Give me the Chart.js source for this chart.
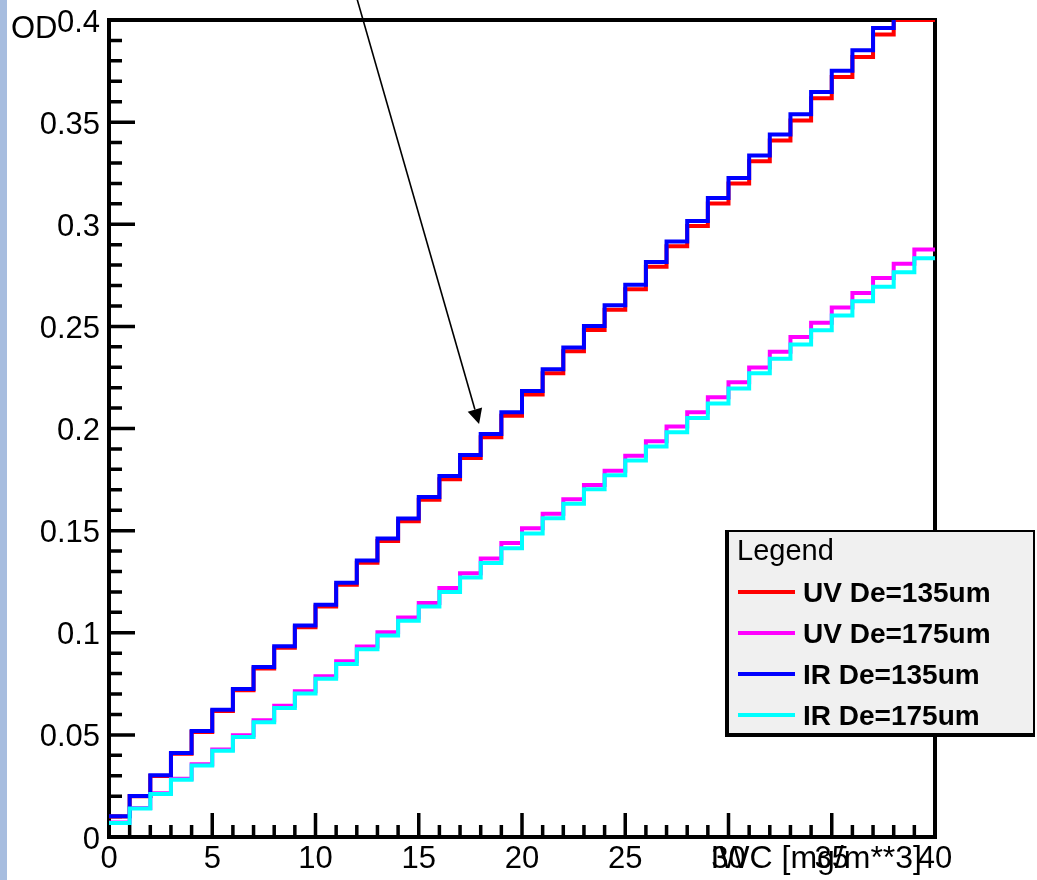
<!DOCTYPE html>
<html>
<head>
<meta charset="utf-8">
<title>OD vs IWC</title>
<script src="https://cdn.jsdelivr.net/npm/chart.js@4.4.1/dist/chart.umd.min.js"></script>
<style>
  html, body { margin: 0; padding: 0; background: #fff; }
  body { width: 1037px; height: 880px; position: relative; overflow: hidden; }
  .side-strip { position: absolute; left: 0; top: 0; width: 7px; height: 880px; background: #a7bddf; }
  #odChart { position: absolute; left: 0; top: 0; }
</style>
</head>
<body>
<div class="side-strip"></div>
<canvas id="odChart" width="1037" height="880"></canvas>
<script>
// histogram bin edges, IWC [mg/m**3]
const binEdges = [0, 1, 2, 3, 4, 5, 6, 7, 8, 9, 10, 11, 12, 13, 14, 15, 16, 17, 18, 19, 20,
  21, 22, 23, 24, 25, 26, 27, 28, 29, 30, 31, 32, 33, 34, 35, 36, 37, 38, 39, 40];

// OD per bin
const uv135 = [0.0100, 0.0199, 0.0299, 0.0407, 0.0514, 0.0617, 0.0719, 0.0825, 0.0926, 0.1027,
  0.1128, 0.1235, 0.1343, 0.1449, 0.1546, 0.1651, 0.1752, 0.1855, 0.1957, 0.2062,
  0.2166, 0.2271, 0.2378, 0.2482, 0.2582, 0.2682, 0.2792, 0.2892, 0.2991, 0.3102,
  0.3199, 0.3309, 0.3410, 0.3508, 0.3617, 0.3721, 0.3819, 0.3929, 0.4000, 0.4000];
const uv175 = [0.0071, 0.0142, 0.0214, 0.0285, 0.0356, 0.0429, 0.0498, 0.0571, 0.0642, 0.0713,
  0.0787, 0.0860, 0.0933, 0.1002, 0.1075, 0.1146, 0.1219, 0.1291, 0.1364, 0.1440,
  0.1512, 0.1583, 0.1653, 0.1723, 0.1793, 0.1866, 0.1938, 0.2010, 0.2080, 0.2153,
  0.2226, 0.2299, 0.2376, 0.2448, 0.2518, 0.2593, 0.2664, 0.2737, 0.2806, 0.2876];
const ir135 = [0.0101, 0.0201, 0.0302, 0.0411, 0.0519, 0.0623, 0.0725, 0.0832, 0.0934, 0.1036,
  0.1137, 0.1245, 0.1354, 0.1461, 0.1559, 0.1665, 0.1767, 0.1870, 0.1973, 0.2079,
  0.2184, 0.2290, 0.2397, 0.2502, 0.2603, 0.2704, 0.2815, 0.2916, 0.3016, 0.3128,
  0.3226, 0.3337, 0.3439, 0.3538, 0.3647, 0.3752, 0.3852, 0.3961, 0.4065, 0.4170];
const ir175 = [0.0069, 0.0140, 0.0211, 0.0280, 0.0350, 0.0422, 0.0490, 0.0562, 0.0632, 0.0702,
  0.0775, 0.0847, 0.0919, 0.0987, 0.1059, 0.1129, 0.1200, 0.1271, 0.1342, 0.1414,
  0.1486, 0.1560, 0.1631, 0.1702, 0.1771, 0.1843, 0.1912, 0.1982, 0.2052, 0.2122,
  0.2196, 0.2271, 0.2341, 0.2411, 0.2481, 0.2553, 0.2623, 0.2694, 0.2765, 0.2833];

const xTicks = [0, 5, 10, 15, 20, 25, 30, 35, 40];
const yTicks = [0, 0.05, 0.1, 0.15, 0.2, 0.25, 0.3, 0.35, 0.4];
const xMinorStep = 1;
const yMinorStep = 0.01;

// arrow annotation, in data coordinates
const arrowFrom = [12.02, 0.41];
const arrowTo = [17.92, 0.2022];

const FONT = "'Liberation Sans', Arial, Helvetica, sans-serif";
Chart.defaults.font.family = FONT;
Chart.defaults.color = "#000";

// one point per left bin edge plus the closing edge, drawn as steps
function histPoints(values) {
  const pts = values.map((v, i) => ({ x: binEdges[i], y: v }));
  pts.push({ x: binEdges[values.length], y: values[values.length - 1] });
  return pts;
}

function histDataset(label, values, color, order) {
  return {
    label,
    data: histPoints(values),
    borderColor: color,
    backgroundColor: color,
    borderWidth: 4,
    stepped: "before",
    pointRadius: 0,
    borderJoinStyle: "miter",
    borderCapStyle: "butt",
    fill: false,
    order,
  };
}

// frame and inward ticks, under the histograms
const framePlugin = {
  id: "frame",
  beforeDatasetsDraw(chart) {
    const { ctx, chartArea: a, scales: { x, y } } = chart;
    ctx.save();
    ctx.strokeStyle = "#000";
    ctx.lineWidth = 4;
    ctx.strokeRect(a.left, a.top, a.right - a.left, a.bottom - a.top);

    ctx.lineWidth = 3.5;
    ctx.beginPath();
    const nx = Math.round((x.max - x.min) / xMinorStep);
    for (let k = 1; k < nx; k++) {
      const v = x.min + k * xMinorStep;
      const px = x.getPixelForValue(v);
      const len = xTicks.includes(v) ? 24 : 12;
      ctx.moveTo(px, a.bottom);
      ctx.lineTo(px, a.bottom - len);
    }
    const ny = Math.round((y.max - y.min) / yMinorStep);
    for (let k = 1; k < ny; k++) {
      const v = +(y.min + k * yMinorStep).toFixed(2);
      const py = y.getPixelForValue(v);
      const len = yTicks.includes(v) ? 26 : 13;
      ctx.moveTo(a.left, py);
      ctx.lineTo(a.left + len, py);
    }
    ctx.stroke();
    ctx.restore();
  },
};

const overlayPlugin = {
  id: "overlay",
  afterDraw(chart) {
    const { ctx, chartArea: a, scales: { x, y } } = chart;
    ctx.save();

    // arrow
    const x0 = x.getPixelForValue(arrowFrom[0]);
    const y0 = y.getPixelForValue(arrowFrom[1]);
    const x1 = x.getPixelForValue(arrowTo[0]);
    const y1 = y.getPixelForValue(arrowTo[1]);
    const ang = Math.atan2(y1 - y0, x1 - x0);
    const headLen = 15;
    const headHalf = 7.5;
    const bx = x1 - headLen * Math.cos(ang);
    const by = y1 - headLen * Math.sin(ang);
    ctx.strokeStyle = "#000";
    ctx.fillStyle = "#000";
    ctx.lineWidth = 1.6;
    ctx.beginPath();
    ctx.moveTo(x0, y0);
    ctx.lineTo(bx, by);
    ctx.stroke();
    ctx.beginPath();
    ctx.moveTo(x1, y1);
    ctx.lineTo(bx + headHalf * Math.sin(ang), by - headHalf * Math.cos(ang));
    ctx.lineTo(bx - headHalf * Math.sin(ang), by + headHalf * Math.cos(ang));
    ctx.closePath();
    ctx.fill();

    // axis titles
    ctx.font = "31px " + FONT;
    ctx.textBaseline = "alphabetic";
    ctx.textAlign = "left";
    ctx.fillText("OD", 11, 38);
    ctx.font = "32px " + FONT;
    ctx.textAlign = "right";
    ctx.fillText("IWC [mg/m**3]", a.right - 13, 868);

    // legend box
    const box = { left: 725, top: 530, right: 1035, bottom: 737 };
    ctx.fillStyle = "#f0f0f0";
    ctx.fillRect(box.left, box.top, box.right - box.left, box.bottom - box.top);
    ctx.strokeStyle = "#000";
    ctx.lineWidth = 2;
    ctx.strokeRect(box.left + 1, box.top + 1, box.right - box.left - 2, box.bottom - box.top - 2);
    ctx.fillStyle = "#000";
    ctx.fillRect(box.left, box.top, 4, box.bottom - box.top);
    ctx.fillRect(box.left, box.bottom - 4, box.right - box.left, 4);

    ctx.textAlign = "left";
    ctx.font = "29px " + FONT;
    ctx.fillText("Legend", 737, 560);

    ctx.font = "bold 28px " + FONT;
    chart.data.datasets.forEach((ds, i) => {
      const cy = 592 + i * 41;
      ctx.strokeStyle = ds.borderColor;
      ctx.lineWidth = 4;
      ctx.beginPath();
      ctx.moveTo(738, cy);
      ctx.lineTo(795, cy);
      ctx.stroke();
      ctx.fillStyle = "#000";
      ctx.fillText(ds.label, 803, cy + 10);
    });
    ctx.restore();
  },
};

new Chart(document.getElementById("odChart"), {
  type: "line",
  data: {
    datasets: [
      histDataset("UV De=135um", uv135, "#ff0000", 3),
      histDataset("UV De=175um", uv175, "#ff00ff", 2),
      histDataset("IR De=135um", ir135, "#0000ff", 1),
      histDataset("IR De=175um", ir175, "#00ffff", 0),
    ],
  },
  options: {
    responsive: false,
    animation: false,
    layout: { padding: { top: 20, right: 102, left: 0, bottom: 0 } },
    plugins: { legend: { display: false }, tooltip: { enabled: false } },
    scales: {
      x: {
        type: "linear",
        min: 0,
        max: 40,
        grid: { display: false },
        border: { display: false },
        ticks: {
          stepSize: 5,
          padding: -4,
          maxRotation: 0,
          font: { size: 31 },
          color: "#000",
        },
        afterFit: (s) => { s.height = 43; s.paddingLeft = 0; s.paddingRight = 0; },
      },
      y: {
        type: "linear",
        min: 0,
        max: 0.4,
        grid: { display: false },
        border: { display: false },
        ticks: {
          stepSize: 0.05,
          padding: 1,
          labelOffset: 3,
          font: { size: 31 },
          color: "#000",
          callback: (v) => String(+v.toFixed(2)),
        },
        afterFit: (s) => { s.width = 109; s.paddingTop = 0; s.paddingBottom = 0; },
      },
    },
  },
  plugins: [framePlugin, overlayPlugin],
});
</script>
</body>
</html>
